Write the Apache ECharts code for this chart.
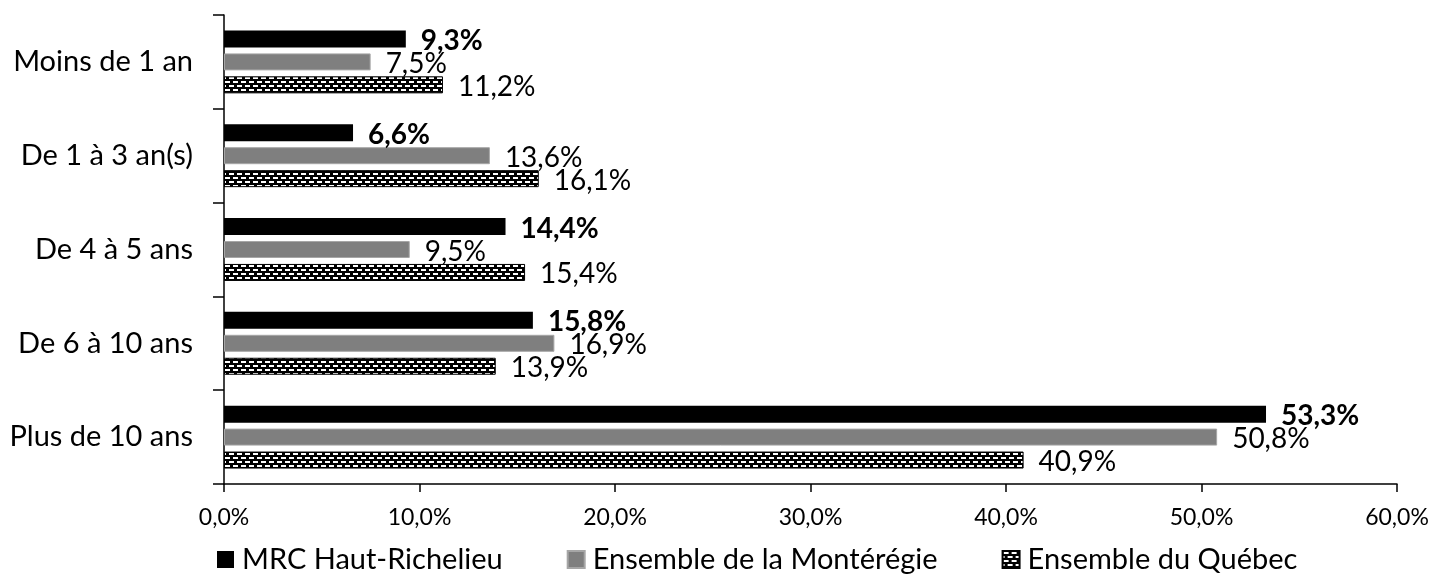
<!DOCTYPE html>
<html lang="fr">
<head>
<meta charset="utf-8">
<title>Durée de résidence</title>
<script src="https://cdn.jsdelivr.net/npm/echarts@6.0.0/dist/echarts.min.js"></script>
<style>
  html, body { margin: 0; padding: 0; background: #fff; }
  #chart { width: 1432px; height: 575px; }
</style>
</head>
<body>
<div id="chart"></div>
<script>
const categories = ['Moins de 1 an', 'De 1 à 3 an(s)', 'De 4 à 5 ans', 'De 6 à 10 ans', 'Plus de 10 ans']
const seriesNames = ['MRC Haut-Richelieu', 'Ensemble de la Montérégie', 'Ensemble du Québec']
const mrcValues = [9.3, 6.6, 14.4, 15.8, 53.3]
const monteregieValues = [7.5, 13.6, 9.5, 16.9, 50.8]
const quebecValues = [11.2, 16.1, 15.4, 13.9, 40.9]
const axisTicks = [0, 10, 20, 30, 40, 50, 60]

const FONT = 'Lato, "Open Sans", sans-serif'

// brick-like fill used by Excel for the Québec series
const makePattern = () => {
  const c = document.createElement('canvas')
  c.width = 8
  c.height = 8
  const ctx = c.getContext('2d')
  ctx.fillStyle = '#000'
  ctx.fillRect(0, 0, 8, 8)
  ctx.fillStyle = '#fff'
  ctx.fillRect(1, 1, 5, 2)
  ctx.fillRect(5, 5, 3, 2)
  ctx.fillRect(0, 5, 2, 2)
  return c
}

const pct = (v) => v.toFixed(1).replace('.', ',') + '%'

const chart = echarts.init(document.getElementById('chart'), null, { renderer: 'canvas' })

const labelFor = (bold) => ({
  show: true,
  position: 'right',
  distance: 15,
  offset: [0, 2],
  color: '#000',
  fontFamily: FONT,
  fontSize: 28,
  fontWeight: bold ? 'bold' : 'normal',
  formatter: (p) => pct(p.value)
})

const option = {
  animation: false,
  backgroundColor: '#fff',
  textStyle: { fontFamily: FONT },
  grid: {
    left: 224,
    right: 35,
    top: 15,
    bottom: 91,
    containLabel: false
  },
  legend: {
    left: 217,
    top: 545,
    padding: 0,
    itemWidth: 17,
    itemHeight: 17,
    itemGap: 64,
    icon: 'rect',
    data: seriesNames,
    textStyle: {
      fontFamily: FONT,
      fontSize: 29,
      color: '#000',
      padding: [0, 0, 0, 3]
    }
  },
  xAxis: {
    type: 'value',
    min: axisTicks[0],
    max: axisTicks[axisTicks.length - 1],
    interval: 10,
    splitLine: { show: false },
    axisLine: { show: true, lineStyle: { color: '#000', width: 1.5 } },
    axisTick: { show: true, length: 8, lineStyle: { color: '#000', width: 1.5 } },
    axisLabel: {
      margin: 22,
      color: '#000',
      fontFamily: FONT,
      fontSize: 23,
      formatter: (v) => pct(v)
    }
  },
  yAxis: {
    type: 'category',
    inverse: true,
    data: categories,
    axisLine: { show: true, lineStyle: { color: '#000', width: 1.5 } },
    axisTick: { show: true, length: 11, lineStyle: { color: '#000', width: 1.5 } },
    axisLabel: {
      margin: 31,
      color: '#000',
      fontFamily: FONT,
      fontSize: 29
    }
  },
  series: [
    {
      name: seriesNames[0],
      type: 'bar',
      data: mrcValues,
      barWidth: 17,
      barGap: '35%',
      barCategoryGap: '34%',
      itemStyle: { color: '#000' },
      label: labelFor(true)
    },
    {
      name: seriesNames[1],
      type: 'bar',
      data: monteregieValues,
      barWidth: 17,
      itemStyle: { color: '#7f7f7f', borderColor: '#a6a6a6', borderWidth: 1 },
      label: labelFor(false)
    },
    {
      name: seriesNames[2],
      type: 'bar',
      data: quebecValues,
      barWidth: 17,
      itemStyle: {
        color: { image: makePattern(), repeat: 'repeat' },
        borderColor: '#000',
        borderWidth: 1
      },
      label: labelFor(false)
    }
  ]
}

chart.setOption(option)
</script>
</body>
</html>
